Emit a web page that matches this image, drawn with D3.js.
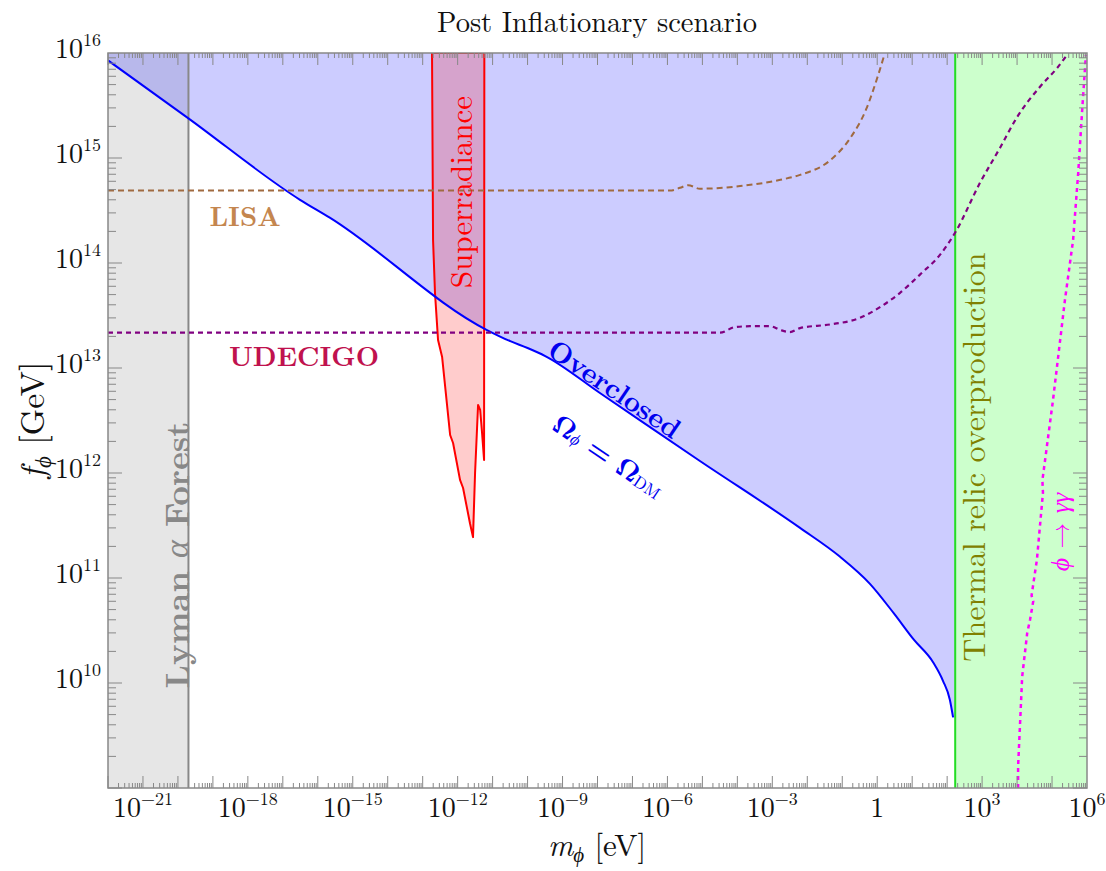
<!DOCTYPE html>
<html>
<head>
<meta charset="utf-8">
<script src="https://cdn.jsdelivr.net/npm/d3@7"></script>
<style>
body { margin: 0; background: #fff; }
text { font-family: "Latin Modern Roman", "CMU Serif", "Liberation Serif", serif; }
</style>
</head>
<body>
<svg id="chart" width="1106" height="871"></svg>
<script>
(function(){
'use strict';

// axis ranges (eV, GeV)
var xDomain = [1e-22, 1e6];
var yDomain = [1e9, 1e16];
var xLabelExps = [-21, -18, -15, -12, -9, -6, -3, 0, 3, 6];
var yLabelExps = [10, 11, 12, 13, 14, 15, 16];

// bounds
var lymanMass = 2.0e-20;
var thermalMass = 170;

// Omega_phi = Omega_DM line [m, f]
var overclosed = [
    [1.0e-22, 8.5e15], [1.95e-20, 2.4e15], [3.1e-17, 4.0e14], [2.2e-16, 2.7e14],
    [6.9e-12, 2.3e13], [3.2e-11, 1.8e13], [1.0e-10, 1.55e13],
    [3.2e-10, 1.3e13], [1.2e-8, 5.75e12], [8.5e-6, 1.3e12], [6.2e-3, 3.0e11],
    [0.085, 1.60e11], [0.62, 8.8e10], [3.0, 4.6e10], [11, 2.6e10], [40, 1.57e10],
    [76, 1.05e10], [120, 6.9e9], [148, 4.7e9]
];

var superradiance = [
    [1.85e-13, 1e16], [1.98e-13, 1.66e14], [2.25e-13, 5.2e13], [2.75e-13, 1.85e13],
    [3.6e-13, 1.27e13], [6.1e-13, 2.3e12], [7.4e-13, 1.93e12], [1.17e-12, 8.6e11],
    [1.43e-12, 7.2e11], [2.26e-12, 3.3e11], [2.75e-12, 2.45e11], [3.15e-12, 1.0e12],
    [3.84e-12, 4.45e12], [4.4e-12, 4.0e12], [5.0e-12, 2.4e12], [5.7e-12, 1.33e12],
    [5.8e-12, 1e16]
];

var lisa = [
    [1e-22, 4.9e14], [1.2e-6, 4.9e14], [2.3e-6, 5.2e14], [3.9e-6, 5.5e14],
    [8.5e-6, 5.1e14], [1.2e-4, 5.4e14], [1.7e-3, 6.2e14], [6.2e-3, 6.9e14],
    [0.045, 9.5e14], [0.17, 1.55e15], [0.48, 2.9e15], [1.07, 6.2e15], [1.6, 9.6e15]
];

var udecigo = [
    [1e-22, 2.17e13], [3.2e-5, 2.17e13], [8.5e-5, 2.45e13], [2.3e-4, 2.5e13],
    [8.7e-4, 2.5e13], [1.7e-3, 2.3e13], [3.2e-3, 2.2e13], [6.2e-3, 2.4e13],
    [0.045, 2.6e13], [0.32, 3.0e13], [1.2, 3.8e13], [4.5, 5.2e13], [17, 7.8e13],
    [63, 1.2e14], [170, 1.95e14], [870, 5.8e14], [3300, 1.26e15], [1.0e4, 2.45e15],
    [4.6e4, 4.8e15], [1.4e5, 7.2e15], [2.7e5, 9.6e15]
];

var decayPhotons = [
    [1.07e4, 1e9], [1.07e4, 1.6e9], [1.4e4, 1.15e10], [1.95e4, 3.0e10],
    [2.35e4, 4.0e10], [2.9e4, 6.0e10], [2.6e4, 6.8e10], [3.7e4, 1.5e11],
    [5.5e4, 6.5e11], [5.3e4, 8.5e11], [1.07e5, 5.0e12], [2.35e5, 4.5e13],
    [4.0e5, 1.65e14], [5.6e5, 7.2e14], [7.4e5, 3.1e15], [9.3e5, 9.6e15]
];

var plot = {left: 108, right: 1087, top: 53, bottom: 788};

var x = d3.scaleLog().domain(xDomain).range([plot.left, plot.right]);
var y = d3.scaleLog().domain(yDomain).range([plot.bottom, plot.top]);

var svg = d3.select('#chart');

svg.append('defs').append('clipPath').attr('id', 'clip')
    .append('rect')
    .attr('x', plot.left).attr('y', plot.top)
    .attr('width', plot.right - plot.left).attr('height', plot.bottom - plot.top);

var g = svg.append('g').attr('clip-path', 'url(#clip)');

var line = d3.line().x(function(d) { return x(d[0]); }).y(function(d) { return y(d[1]); });

// shaded regions
g.append('rect')
    .attr('x', x(xDomain[0])).attr('y', plot.top)
    .attr('width', x(lymanMass) - x(xDomain[0])).attr('height', plot.bottom - plot.top)
    .attr('fill', '#808080').attr('fill-opacity', 0.2);

g.append('path')
    .attr('d', d3.area()
        .x(function(d) { return x(d[0]); })
        .y0(plot.top)
        .y1(function(d) { return y(d[1]); })
        .curve(d3.curveMonotoneX)(overclosed.concat([[thermalMass, overclosed[overclosed.length - 1][1]]])))
    .attr('fill', '#0000ff').attr('fill-opacity', 0.2);

g.append('rect')
    .attr('x', x(thermalMass)).attr('y', plot.top)
    .attr('width', x(xDomain[1]) - x(thermalMass)).attr('height', plot.bottom - plot.top)
    .attr('fill', '#00ff00').attr('fill-opacity', 0.2);

g.append('path')
    .attr('d', line(superradiance) + 'Z')
    .attr('fill', '#ff0000').attr('fill-opacity', 0.2)
    .attr('stroke', '#ff0000').attr('stroke-width', 2).attr('stroke-linejoin', 'round');

// boundary lines
g.append('line')
    .attr('x1', x(lymanMass)).attr('x2', x(lymanMass))
    .attr('y1', plot.top).attr('y2', plot.bottom)
    .attr('stroke', '#888').attr('stroke-width', 2);

g.append('line')
    .attr('x1', x(thermalMass)).attr('x2', x(thermalMass))
    .attr('y1', plot.top).attr('y2', plot.bottom)
    .attr('stroke', '#22dd22').attr('stroke-width', 2);

g.append('path')
    .attr('d', line.curve(d3.curveMonotoneX)(overclosed))
    .attr('fill', 'none').attr('stroke', '#0000ff').attr('stroke-width', 2);

g.append('path')
    .attr('d', line.curve(d3.curveMonotoneX)(lisa))
    .attr('fill', 'none').attr('stroke', '#a06a40').attr('stroke-width', 2)
    .attr('stroke-dasharray', '6,4');

g.append('path')
    .attr('d', line.curve(d3.curveMonotoneX)(udecigo))
    .attr('fill', 'none').attr('stroke', '#800080').attr('stroke-width', 2.2)
    .attr('stroke-dasharray', '5,4');

g.append('path')
    .attr('d', line.curve(d3.curveLinear)(decayPhotons))
    .attr('fill', 'none').attr('stroke', '#ff00ff').attr('stroke-width', 2.5)
    .attr('stroke-dasharray', '4,4');

// frame and ticks
var tickColor = '#888';
var ticks = svg.append('g').attr('stroke', tickColor).attr('stroke-width', 1);

var e, k, v, len;
for (e = -22; e < 6; e++) {
    for (k = 1; k < 10; k++) {
        v = k * Math.pow(10, e);
        len = k === 1 ? 12 : 5;
        ticks.append('line').attr('x1', x(v)).attr('x2', x(v))
            .attr('y1', plot.bottom).attr('y2', plot.bottom - len);
        ticks.append('line').attr('x1', x(v)).attr('x2', x(v))
            .attr('y1', plot.top).attr('y2', plot.top + len);
    }
}
for (e = 9; e < 16; e++) {
    for (k = 1; k < 10; k++) {
        v = k * Math.pow(10, e);
        len = k === 1 ? 14 : 8;
        ticks.append('line').attr('y1', y(v)).attr('y2', y(v))
            .attr('x1', plot.left).attr('x2', plot.left + len);
        ticks.append('line').attr('y1', y(v)).attr('y2', y(v))
            .attr('x1', plot.right).attr('x2', plot.right - len);
    }
}

svg.append('rect')
    .attr('x', plot.left).attr('y', plot.top)
    .attr('width', plot.right - plot.left).attr('height', plot.bottom - plot.top)
    .attr('fill', 'none').attr('stroke', '#888').attr('stroke-width', 1.5);

function powerLabel(sel, exp) {
    if (exp === 0) {
        sel.text('1');
        return;
    }
    sel.append('tspan').text('10');
    sel.append('tspan').attr('dy', -12).attr('font-size', 18)
        .text(String(exp).replace('-', '\u2212'));
}

xLabelExps.forEach(function(ex) {
    var t = svg.append('text')
        .attr('x', x(Math.pow(10, ex))).attr('y', 817)
        .attr('text-anchor', 'middle').attr('font-size', 28).attr('fill', '#111');
    powerLabel(t, ex);
});

yLabelExps.forEach(function(ex) {
    var t = svg.append('text')
        .attr('x', 101).attr('y', y(Math.pow(10, ex)) + 5)
        .attr('text-anchor', 'end').attr('font-size', 28).attr('fill', '#111');
    powerLabel(t, ex);
});

// title and axis labels
svg.append('text')
    .attr('x', 597).attr('y', 32).attr('text-anchor', 'middle')
    .attr('font-size', 28.5).attr('fill', '#111')
    .text('Post Inflationary scenario');

var xl = svg.append('text')
    .attr('x', 597).attr('y', 856).attr('text-anchor', 'middle')
    .attr('font-size', 31).attr('fill', '#111');
xl.append('tspan').attr('font-style', 'italic').text('m');
xl.append('tspan').attr('font-style', 'italic').attr('font-size', 21).attr('dy', 6).text('\u03d5');
xl.append('tspan').attr('dy', -6).text(' [eV]');

var yl = svg.append('text')
    .attr('transform', 'translate(44,420) rotate(-90)').attr('text-anchor', 'middle')
    .attr('font-size', 34).attr('fill', '#111');
yl.append('tspan').attr('font-style', 'italic').text('f');
yl.append('tspan').attr('font-style', 'italic').attr('font-size', 23).attr('dy', 7).text('\u03d5');
yl.append('tspan').attr('dy', -7).text(' [GeV]');

// region annotations
function label(txt, px, py, angle, color, size, bold) {
    return svg.append('text')
        .attr('transform', 'translate(' + px + ',' + py + ') rotate(' + angle + ')')
        .attr('text-anchor', 'middle').attr('dominant-baseline', 'central')
        .attr('font-size', size).attr('fill', color)
        .attr('font-weight', bold ? 'bold' : 'normal')
        .text(txt);
}

label('LISA', 245, 214, 0, '#c4864f', 27, true);
label('UDECIGO', 304, 354, 0, '#c0124e', 27, true);
label('Superradiance', 459, 192, -90, '#ff0000', 31, false);
label('Overclosed', 616, 387, 34, '#0000ee', 28, true);
label('Thermal relic overproduction', 971, 457, -90, '#808000', 32, false);

var ly = svg.append('text')
    .attr('transform', 'translate(174,555) rotate(-90)')
    .attr('text-anchor', 'middle').attr('dominant-baseline', 'central')
    .attr('font-size', 34).attr('fill', '#888').attr('font-weight', 'bold');
ly.append('tspan').text('Lyman ');
ly.append('tspan').attr('font-style', 'italic').attr('font-weight', 'normal').text('\u03b1');
ly.append('tspan').text(' Forest');

var om = svg.append('text')
    .attr('transform', 'translate(610,454) rotate(34)')
    .attr('text-anchor', 'middle').attr('dominant-baseline', 'central')
    .attr('font-size', 27).attr('fill', '#0000ee').attr('font-weight', 'bold');
om.append('tspan').text('\u03a9');
om.append('tspan').attr('font-size', 17).attr('dy', 6).attr('font-style', 'italic').attr('font-weight', 'normal').text('\u03d5');
om.append('tspan').attr('dy', -6).text(' = \u03a9');
om.append('tspan').attr('font-size', 17).attr('dy', 6).attr('font-weight', 'normal').text('DM');

var ph = svg.append('text')
    .attr('transform', 'translate(1058,532) rotate(-90)')
    .attr('text-anchor', 'middle').attr('dominant-baseline', 'central')
    .attr('font-size', 26).attr('fill', '#ff00ff').attr('font-style', 'italic');
ph.append('tspan').text('\u03d5 ');
ph.append('tspan').attr('font-style', 'normal').text('\u2192');
ph.append('tspan').text(' \u03b3\u03b3');

})();
</script>
</body>
</html>
